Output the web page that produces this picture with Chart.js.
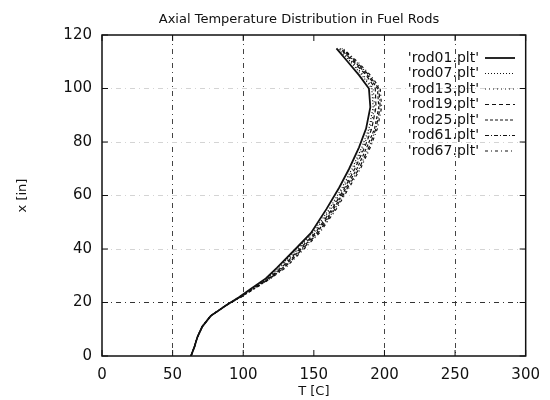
<!DOCTYPE html>
<html>
<head>
<meta charset="utf-8">
<script src="https://cdn.jsdelivr.net/npm/chart.js@4"></script>
<style>
  html, body { margin: 0; padding: 0; background: #fff; }
  #wrap { width: 550px; height: 400px; }
</style>
</head>
<body>
<div id="wrap"><canvas id="chart" width="550" height="400"></canvas></div>
<script>
// alturas (x [in]) comunes a todas las barras
const heights = [0, 3.5, 7, 11, 15, 19, 22, 25, 29, 33, 40, 46, 55, 63, 70, 78, 85, 93, 100, 105, 110, 115];

// temperaturas, una lista por barra
const rod01 = [63, 65.5, 67.5, 71, 77, 88, 97, 105, 116, 124, 137, 148, 159, 168, 175, 182, 187, 190, 189, 182, 174, 166];
const rod07 = [63, 65.5, 67.5, 71, 77, 88, 97, 105.5, 117, 125, 138, 149, 161, 170, 177, 184, 189, 192, 191, 184, 176, 167];
const rod13 = [63, 65.5, 67.5, 71, 77, 88, 97, 106, 117.5, 126, 139, 150, 162, 171, 178, 185, 190, 193, 192, 185, 177, 168];
const rod19 = [63, 65.5, 67.5, 71, 77, 88, 97.5, 106, 118, 127, 140, 151, 163, 172, 179, 186, 191, 194, 193.5, 187, 178, 168.5];
const rod25 = [63, 65.5, 67.5, 71, 77, 88, 98, 107, 118.5, 128, 141, 152, 164, 173, 180.5, 187.5, 193, 196, 195, 188, 179, 169];
const rod61 = [63, 65.5, 67.5, 71, 77, 88, 98, 107, 119, 129, 142, 153, 165, 174, 182, 189, 194, 197, 196, 189, 180, 170];
const rod67 = [63, 65.5, 67.5, 71, 77, 88, 98.5, 107.5, 119.5, 130, 143, 154, 166, 175, 183, 190, 195, 198, 197, 190, 181, 170.5];

const seriesNames = ["'rod01.plt'", "'rod07.plt'", "'rod13.plt'", "'rod19.plt'", "'rod25.plt'", "'rod61.plt'", "'rod67.plt'"];
const seriesTemps = [rod01, rod07, rod13, rod19, rod25, rod61, rod67];

const xTicks = [0, 50, 100, 150, 200, 250, 300];
const yTicks = [0, 20, 40, 60, 80, 100, 120];

const chartTitle = 'Axial Temperature Distribution in Fuel Rods';
const xTitle = 'T [C]';
const yTitle = 'x [in]';

const FONT = '"DejaVu Sans", sans-serif';
const dashes = [[], [1, 2], [1, 3], [4, 3], [3, 2], [4, 2, 1, 2], [3, 3, 1, 3]];
const widths = [1.8, 1.2, 1.2, 1.2, 1.2, 1.2, 1.2];

const datasets = seriesTemps.map((temps, i) => ({
    label: seriesNames[i],
    data: heights.map((h, k) => ({ x: temps[k], y: h })),
    showLine: true,
    pointRadius: 0,
    borderColor: '#111',
    borderWidth: widths[i],
    borderDash: dashes[i],
    tension: 0
}));

// marco, ticks hacia dentro, titulo y leyenda al estilo gnuplot
const gnuplotBits = {
    id: 'gnuplotBits',
    afterDraw(chart) {
        const { ctx, chartArea: a, scales: { x, y } } = chart;
        ctx.save();
        ctx.strokeStyle = '#111';
        ctx.lineWidth = 1.5;
        ctx.setLineDash([]);
        ctx.strokeRect(a.left, a.top, a.right - a.left, a.bottom - a.top);

        ctx.lineWidth = 1;
        ctx.beginPath();
        xTicks.forEach(v => {
            const px = x.getPixelForValue(v);
            ctx.moveTo(px, a.bottom); ctx.lineTo(px, a.bottom - 6);
            ctx.moveTo(px, a.top); ctx.lineTo(px, a.top + 6);
        });
        yTicks.forEach(v => {
            const py = y.getPixelForValue(v);
            ctx.moveTo(a.left, py); ctx.lineTo(a.left + 6, py);
            ctx.moveTo(a.right, py); ctx.lineTo(a.right - 6, py);
        });
        ctx.stroke();

        ctx.fillStyle = '#111';
        ctx.font = '13px ' + FONT;
        ctx.textAlign = 'center';
        ctx.textBaseline = 'middle';
        ctx.fillText(chartTitle, 299, 20);

        // leyenda
        ctx.font = '14px ' + FONT;
        ctx.textAlign = 'right';
        chart.data.datasets.forEach((ds, i) => {
            const ty = 58 + i * 15.5;
            ctx.fillText(ds.label, 479, ty);
            ctx.beginPath();
            ctx.setLineDash(ds.borderDash);
            ctx.lineWidth = ds.borderWidth;
            ctx.moveTo(485, ty);
            ctx.lineTo(515, ty);
            ctx.stroke();
        });
        ctx.restore();
    }
};

new Chart(document.getElementById('chart'), {
    type: 'scatter',
    data: { datasets },
    options: {
        responsive: false,
        animation: false,
        layout: { padding: { top: 35, right: 21, left: 0, bottom: 0 } },
        plugins: {
            legend: { display: false },
            title: { display: false },
            tooltip: { enabled: false }
        },
        scales: {
            x: {
                type: 'linear',
                min: 0, max: 300,
                afterBuildTicks: s => { s.ticks = xTicks.map(v => ({ value: v })); },
                afterFit: s => { s.height = 44; },
                ticks: { color: '#111', font: { family: FONT, size: 15 }, padding: 10, maxRotation: 0 },
                grid: {
                    drawTicks: false,
                    lineWidth: 1,
                    color: c => (c.tick && [0, 150, 300].includes(c.tick.value)) ? 'rgba(0,0,0,0)' : '#444'
                },
                border: { display: false, dash: [5, 4, 1, 4] },
                title: { display: true, text: xTitle, color: '#111', font: { family: FONT, size: 13 }, padding: { top: 0, bottom: 1 } }
            },
            y: {
                type: 'linear',
                min: 0, max: 120,
                afterBuildTicks: s => { s.ticks = yTicks.map(v => ({ value: v })); },
                afterFit: s => { s.width = 102; },
                ticks: { color: '#111', font: { family: FONT, size: 15 }, padding: 10 },
                grid: {
                    drawTicks: false,
                    lineWidth: 1,
                    color: c => {
                        if (!c.tick || c.tick.value === 0 || c.tick.value === 120) return 'rgba(0,0,0,0)';
                        return c.tick.value === 20 ? '#333' : '#d4d4d4';
                    }
                },
                border: { display: false, dash: [5, 4, 1, 4] },
                title: { display: true, text: yTitle, color: '#111', font: { family: FONT, size: 13 }, padding: { top: 15, bottom: 0 } }
            }
        }
    },
    plugins: [gnuplotBits]
});
</script>
</body>
</html>
